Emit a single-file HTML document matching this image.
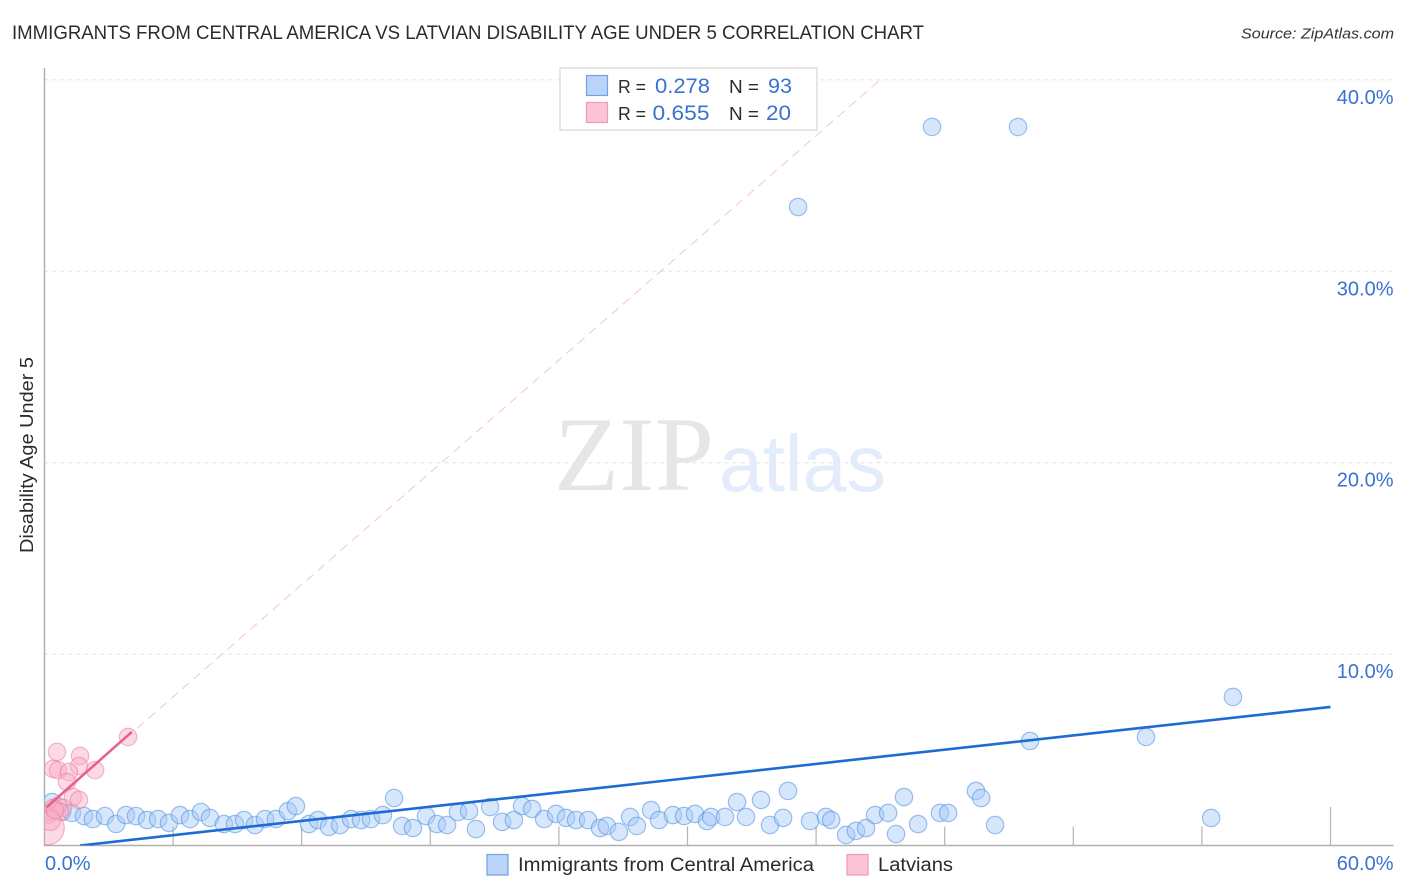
<!DOCTYPE html>
<html lang="en">
<head>
<meta charset="utf-8">
<title>Immigrants from Central America vs Latvian Disability Age Under 5 Correlation Chart</title>
<style>
html,body{margin:0;padding:0;background:#fff;width:1406px;height:892px;overflow:hidden}
svg{display:block}
text{font-family:"Liberation Sans",Arial,sans-serif}
</style>
</head>
<body>
<svg id="chart" xmlns="http://www.w3.org/2000/svg" width="1406" height="892" viewBox="0 0 1406 892">
  <defs>
    <clipPath id="plot-clip"><rect x="44.5" y="60" width="1350" height="785.5"/></clipPath>
  </defs>
  <rect x="0" y="0" width="1406" height="892" fill="#ffffff"/>
  <text x="12" y="39" font-size="19" fill="#2b2b2b" textLength="912" lengthAdjust="spacingAndGlyphs">IMMIGRANTS FROM CENTRAL AMERICA VS LATVIAN DISABILITY AGE UNDER 5 CORRELATION CHART</text>
  <text x="1241" y="38.5" font-size="15" font-style="italic" fill="#333333" textLength="153" lengthAdjust="spacingAndGlyphs">Source: ZipAtlas.com</text>
  <text transform="translate(33,553) rotate(-90)" font-size="18" fill="#2b2b2b" textLength="196" lengthAdjust="spacingAndGlyphs">Disability Age Under 5</text>
  <g id="grid"></g>
  <text x="554" y="490" font-size="106" fill="#e6e6e6" style="font-family:'Liberation Serif',serif" textLength="160" lengthAdjust="spacingAndGlyphs">ZIP</text>
  <text x="719" y="491" font-size="80" fill="#e3ecfa" textLength="167" lengthAdjust="spacingAndGlyphs">atlas</text>
  <g id="axes"></g>
  <g id="marks" clip-path="url(#plot-clip)"></g>
  <g id="labels"></g>

  <g>
    <rect x="560" y="68" width="257" height="62" fill="#ffffff" fill-opacity="0.9" stroke="#dddddd" stroke-width="1.5"/>
    <rect x="586.5" y="75.5" width="21" height="20" fill="#b9d4f8" stroke="#6ea3e0" stroke-width="1.2"/>
    <rect x="586.5" y="102.5" width="21" height="20" fill="#fcc5d6" stroke="#f09ab6" stroke-width="1.2"/>
    <text x="618" y="93" font-size="18" fill="#2b2b2b" textLength="28" lengthAdjust="spacingAndGlyphs">R =</text>
    <text x="655" y="93" font-size="21" fill="#3a72d0" textLength="55" lengthAdjust="spacingAndGlyphs">0.278</text>
    <text x="729" y="93" font-size="18" fill="#2b2b2b" textLength="30" lengthAdjust="spacingAndGlyphs">N =</text>
    <text x="768" y="93" font-size="21" fill="#3a72d0" textLength="24" lengthAdjust="spacingAndGlyphs">93</text>
    <text x="618" y="120" font-size="18" fill="#2b2b2b" textLength="28" lengthAdjust="spacingAndGlyphs">R =</text>
    <text x="652.5" y="120" font-size="21" fill="#3a72d0" textLength="57" lengthAdjust="spacingAndGlyphs">0.655</text>
    <text x="729" y="120" font-size="18" fill="#2b2b2b" textLength="30" lengthAdjust="spacingAndGlyphs">N =</text>
    <text x="766" y="120" font-size="21" fill="#3a72d0" textLength="25" lengthAdjust="spacingAndGlyphs">20</text>
  </g>

  <g>
    <rect x="487" y="854.5" width="21" height="20.5" fill="#b9d4f8" stroke="#6ea3e0" stroke-width="1.2"/>
    <text x="518" y="871" font-size="19" fill="#2b2b2b" textLength="296" lengthAdjust="spacingAndGlyphs">Immigrants from Central America</text>
    <rect x="847" y="854.5" width="21" height="20.5" fill="#fcc5d6" stroke="#f09ab6" stroke-width="1.2"/>
    <text x="878" y="871" font-size="19" fill="#2b2b2b" textLength="75" lengthAdjust="spacingAndGlyphs">Latvians</text>
  </g>
</svg>
<script>
const blueX = [0.35,0.82,1.28,1.84,2.26,2.82,3.34,3.80,4.27,4.78,5.30,5.81,6.32,6.79,7.30,7.72,8.37,8.89,9.31,9.82,10.29,10.80,11.36,11.73,12.34,12.76,13.27,13.79,14.30,14.77,15.23,15.79,16.31,16.68,17.19,17.80,18.31,18.78,19.29,19.81,20.13,20.79,21.35,21.90,22.28,22.75,23.31,23.87,24.33,24.80,25.36,25.92,26.24,26.80,27.32,27.64,28.30,28.67,29.32,29.84,30.35,30.91,31.10,31.75,32.31,32.73,33.43,33.85,34.46,34.69,35.72,36.46,36.70,37.40,37.86,38.33,38.75,39.36,39.73,40.10,40.76,41.78,42.16,43.46,43.70,44.35,45.98,51.39,54.43,55.45,35.16,41.41,45.42];
const blueY = [2.27,1.75,1.70,1.54,1.38,1.54,1.12,1.59,1.54,1.33,1.38,1.18,1.59,1.38,1.75,1.44,1.12,1.12,1.33,1.07,1.38,1.38,1.80,2.06,1.12,1.33,0.97,1.07,1.38,1.33,1.38,1.59,2.48,1.02,0.91,1.54,1.12,1.07,1.75,1.80,0.86,2.01,1.23,1.33,2.06,1.91,1.38,1.65,1.44,1.33,1.33,0.91,1.02,0.71,1.49,1.02,1.85,1.33,1.59,1.54,1.65,1.28,1.49,1.49,2.27,1.49,2.38,1.07,1.44,2.85,1.28,1.49,1.33,0.55,0.76,0.91,1.59,1.70,0.60,2.53,1.12,1.70,1.70,2.85,2.48,1.07,5.46,5.67,1.44,7.76,33.36,37.54,37.54];
const pinkX = [3.90,0.58,1.66,1.61,0.40,0.63,2.36,1.14,1.05,1.33,1.61,0.26,0.40,0.63,0.86,0.16,0.72,0.15,0.26,0.49];
const pinkY = [5.67,4.89,4.68,4.15,4.00,3.94,3.94,3.84,3.32,2.53,2.38,1.75,1.96,2.06,1.96,1.59,1.75,0.91,1.33,1.85];
const pinkWeight = [1,1,1,1,1,1,1,1,1,1,1,1,1,1,1,1,1,1.9,1.2,1];
const blueTrendX = [1.66,60];
const blueTrendY = [0,7.24];
const pinkTrendX = [0.1,4.07];
const pinkTrendY = [2.0,5.93];
const pinkDashX = [0.1,38.98];
const pinkDashY = [2.0,40];
const yTicks = [10,20,30,40];
const yTickLabels = ["10.0%","20.0%","30.0%","40.0%"];
const xTicks = [6,12,18,24,30,36,42,48,54,60];
const xEndLabels = ["0.0%","60.0%"];

const NS = 'http://www.w3.org/2000/svg';
function sx(v){ return 44.5 + v * (1286 / 60); }
function sy(v){ return 845.5 - v * (765.6 / 40); }
function make(tag, attrs, parent){
  const el = document.createElementNS(NS, tag);
  for (const k in attrs) el.setAttribute(k, attrs[k]);
  parent.appendChild(el);
  return el;
}
const gridG = document.getElementById('grid');
const axesG = document.getElementById('axes');
const marksG = document.getElementById('marks');
const labelsG = document.getElementById('labels');

yTicks.forEach(function(t, i){
  const g = make('line', {x1:44.5, x2:1393.5, y1:sy(t), y2:sy(t), stroke:'#e2e2e2', 'stroke-width':1, 'stroke-dasharray':'4 4'}, gridG);
  
  
  const lab = make('text', {x:1393.5, y:sy(t)+24, 'font-size':20, fill:'#3a72d0', 'text-anchor':'end'}, labelsG);
  lab.textContent = yTickLabels[i];
  
  
});

const yAxis = make('line', {x1:44.5, x2:44.5, y1:68, y2:846, stroke:'#b0b0b0', 'stroke-width':1.5}, axesG);


const xAxis = make('line', {x1:44, x2:1393.5, y1:845.5, y2:845.5, stroke:'#b0b0b0', 'stroke-width':1.5}, axesG);


xTicks.forEach(function(t, i){
  const top = i === xTicks.length - 1 ? 807 : 826.5;
  const tick = make('line', {x1:sx(t), x2:sx(t), y1:top, y2:845.5, stroke:'#b4b4b4', 'stroke-width':1.2}, axesG);
  
  
});

const lab0 = make('text', {x:45, y:870, 'font-size':20, fill:'#3a72d0'}, labelsG);
lab0.textContent = xEndLabels[0];


const lab1 = make('text', {x:1393.5, y:870, 'font-size':20, fill:'#3a72d0', 'text-anchor':'end'}, labelsG);
lab1.textContent = xEndLabels[1];



const dash = make('line', {x1:sx(pinkDashX[0]), y1:sy(pinkDashY[0]), x2:sx(pinkDashX[1]), y2:sy(pinkDashY[1]), stroke:'#f3c4d3', 'stroke-width':1, 'stroke-dasharray':'9 6'}, marksG);



blueX.forEach(function(x, i){
  const c = make('circle', {cx:sx(x), cy:sy(blueY[i]), r:8.7, fill:'#a6c9f7', 'fill-opacity':0.46, stroke:'#4f8fe0', 'stroke-opacity':0.55, 'stroke-width':1.2}, marksG);
  
  
});
pinkX.forEach(function(x, i){
  const c = make('circle', {cx:sx(x), cy:sy(pinkY[i]), r:8.7 * pinkWeight[i], fill:'#f8afc6', 'fill-opacity':0.46, stroke:'#e77f9f', 'stroke-opacity':0.55, 'stroke-width':1.2}, marksG);
  
  
});

const bt = make('line', {x1:sx(blueTrendX[0]), y1:sy(blueTrendY[0]), x2:sx(blueTrendX[1]), y2:sy(blueTrendY[1]), stroke:'#1f6bd6', 'stroke-width':2.6}, marksG);


const pt = make('line', {x1:sx(pinkTrendX[0]), y1:sy(pinkTrendY[0]), x2:sx(pinkTrendX[1]), y2:sy(pinkTrendY[1]), stroke:'#e8608d', 'stroke-width':2.6}, marksG);


</script>
</body>
</html>
